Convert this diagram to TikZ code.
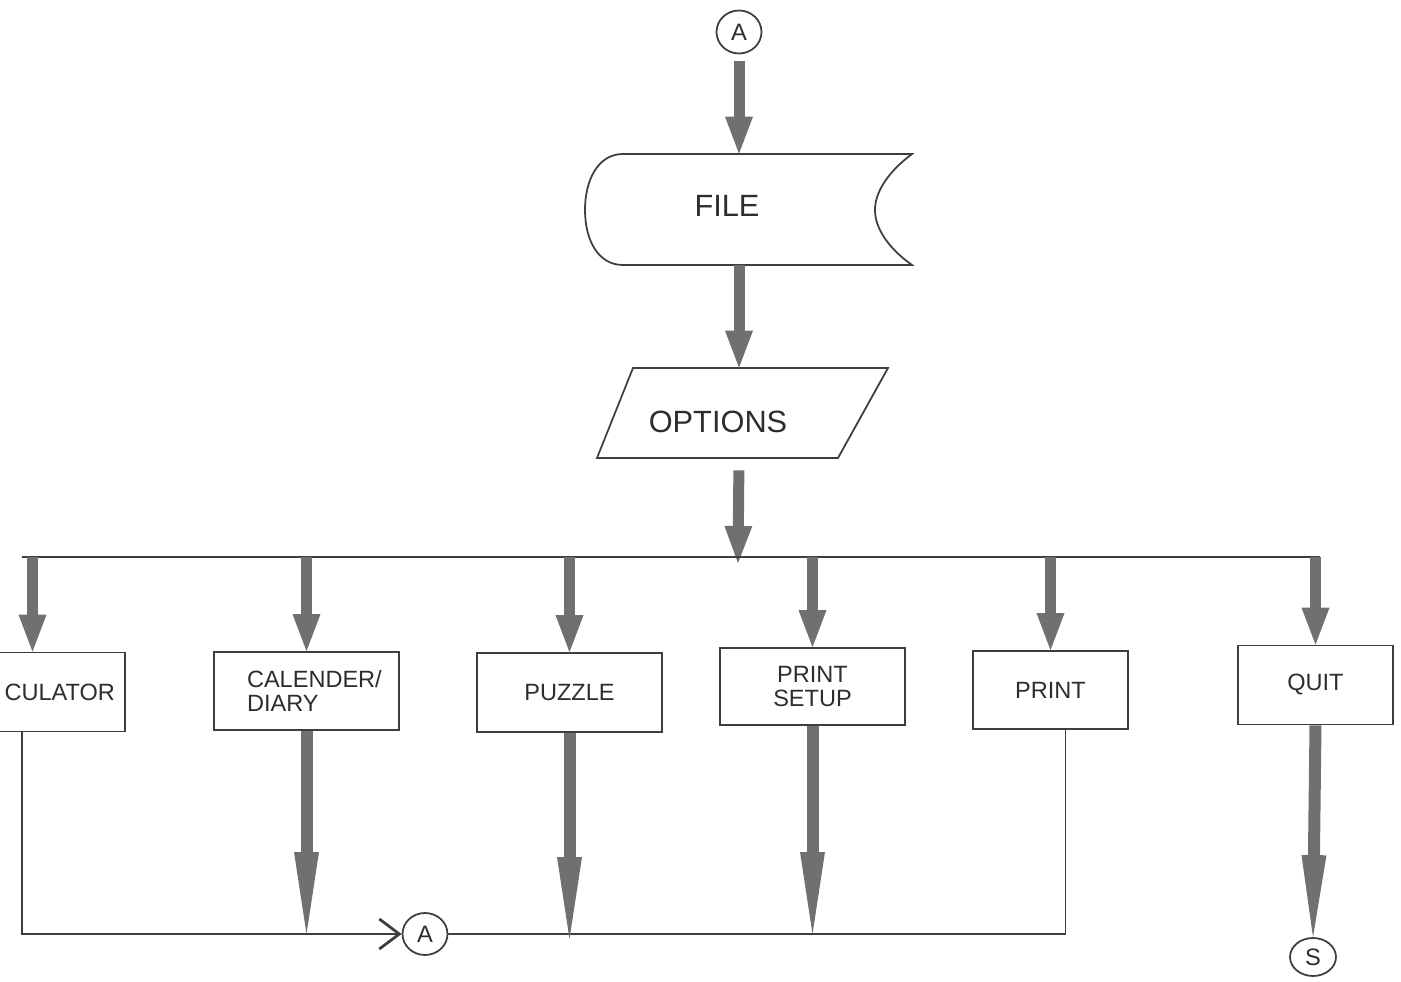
\documentclass[tikz,border=0pt]{standalone}
\usepackage{fontspec}
\setmainfont{Liberation Sans}
\usetikzlibrary{arrows.meta,shapes.geometric}
\definecolor{arrowgray}{RGB}{112,112,112}
\definecolor{linegray}{RGB}{62,62,62}
\definecolor{textgray}{RGB}{45,45,45}

\begin{document}
\begin{tikzpicture}[x=0.02cm, y=-0.02cm,
    outline/.style={draw=linegray, line width=1pt},
    frame/.style={inner sep=0pt},
    menubox/.style={outline, minimum width=3.7cm, minimum height=1.58cm,
      inner sep=0pt, text=textgray, align=center,
      font=\fontsize{13.4}{13.4}\selectfont},
    connector/.style={ellipse, outline, inner sep=0pt, text=textgray,
      font=\fontsize{13.5}{14}\selectfont},
    bigtext/.style={text=textgray, font=\fontsize{17.5}{20}\selectfont},
    flowline/.style={draw=linegray, line width=1pt},
    fatarrow/.style={color=arrowgray, line width=0.22cm,
      -{Triangle[length=0.74cm, width=0.56cm, line width=0pt]}},
    longarrow/.style={color=arrowgray, line width=0.24cm,
      -{Triangle[length=1.64cm, width=0.5cm, line width=0pt]}}]
  \useasboundingbox (0,0) rectangle (1401,982);

  % Entry connector
  \node[connector, minimum width=0.9cm, minimum height=0.86cm] (conA) at (739,32) {A};

  % File symbol
  \node[frame, minimum width=6.54cm, minimum height=2.22cm] (file) at (748.5,209.5) {};
  \draw[outline] (623,154) -- (912,154)
    .. controls (888,172) and (875,192) .. (875,210)
    .. controls (875,228) and (888,248) .. (912,265)
    -- (623,265)
    .. controls (598,265) and (585,240) .. (585,210)
    .. controls (585,180) and (598,154) .. (623,154);
  \node[bigtext] (filetxt) at (727,206) {FILE};

  % Options (input/output)
  \node[frame, minimum width=5.82cm, minimum height=1.8cm] (options) at (742.5,413) {};
  \draw[outline] (633,368) -- (888,368) -- (838,458) -- (597,458) -- cycle;
  \node[bigtext] (optionstxt) at (718,422) {OPTIONS};

  % Menu choices
  \node[menubox, align=right, text width=3.3cm] (calc) at (32.5,692) {CULATOR};
  \node[menubox, align=left, text width=2.38cm, minimum height=1.56cm] (diary) at (306.5,691) {CALENDER/\\DIARY};
  \node[menubox] (puzzle) at (569.5,692.5) {PUZZLE};
  \node[menubox, minimum height=1.54cm] (setup) at (812.5,686.5) {PRINT\\SETUP};
  \node[menubox, minimum width=3.1cm, minimum height=1.56cm] (print) at (1050.5,690) {PRINT};
  \node[menubox, minimum width=3.1cm] (quit) at (1315.5,685) {QUIT};

  % Return and stop connectors
  \node[connector, minimum width=0.9cm, minimum height=0.84cm] (conB) at (425,934) {A};
  \node[connector, minimum width=0.92cm, minimum height=0.76cm] (conS) at (1313,957) {S};

  % Main flow down to the bus
  \coordinate (busL) at (22,557);
  \coordinate (busR) at (1320,557);
  \coordinate (bus) at (738,563);
  \draw[fatarrow, shorten <=0.13cm] (conA.south) -- (conA.south |- file.north);
  \draw[fatarrow] (conA.south |- file.south) -- (conA.south |- options.north);
  \draw[fatarrow, shorten <=0.24cm] (conA.south |- options.south) -- (bus);
  \draw[flowline] (busL) -- (busR);

  % Branches into each choice
  \draw[fatarrow] (calc.north |- busL) -- (calc.north);
  \draw[fatarrow] (diary.north |- busL) -- (diary.north);
  \draw[fatarrow] (puzzle.north |- busL) -- (puzzle.north);
  \draw[fatarrow] (setup.north |- busL) -- (setup.north);
  \draw[fatarrow] (print.north |- busL) -- (print.north);
  \draw[fatarrow] (quit.north |- busL) -- (quit.north);

  % Return lines to A
  \draw[flowline, -{Straight Barb[length=0.4cm, width=0.6cm, line width=1.6pt]}]
    (calc.south -| busL) |- (conB.west);
  \draw[flowline] ([xshift=0.3cm]print.south) |- (conB.east);

  % Exits of the choices
  \draw[longarrow] (diary.south) -- (diary.south |- conB);
  \draw[longarrow] (puzzle.south) -- ([yshift=-0.1cm]puzzle.south |- conB);
  \draw[longarrow] (setup.south) -- (setup.south |- conB);
  \draw[longarrow] (quit.south) -- (conS.north);
\end{tikzpicture}
\end{document}
